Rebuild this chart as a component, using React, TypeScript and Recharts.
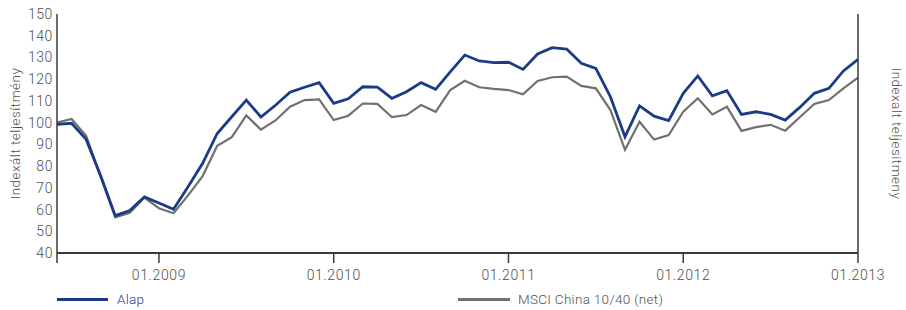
import React from 'react';
import { LineChart, Line, XAxis, YAxis, Legend } from 'recharts';

const months = [
  '06.2008','07.2008','08.2008','09.2008','10.2008','11.2008','12.2008',
  '01.2009','02.2009','03.2009','04.2009','05.2009','06.2009','07.2009','08.2009','09.2009','10.2009','11.2009','12.2009',
  '01.2010','02.2010','03.2010','04.2010','05.2010','06.2010','07.2010','08.2010','09.2010','10.2010','11.2010','12.2010',
  '01.2011','02.2011','03.2011','04.2011','05.2011','06.2011','07.2011','08.2011','09.2011','10.2011','11.2011','12.2011',
  '01.2012','02.2012','03.2012','04.2012','05.2012','06.2012','07.2012','08.2012','09.2012','10.2012','11.2012','12.2012',
  '01.2013',
];

const alap = [
  99.2, 99.7, 92.3, 75.5, 57.2, 59.5, 65.8, 63.0, 60.1, 70.5, 81.3, 95.0,
  102.7, 110.4, 102.6, 108.0, 114.0, 116.3, 118.4, 108.9, 111.0, 116.5, 116.3, 111.2,
  114.2, 118.4, 115.3, 123.4, 131.1, 128.4, 127.6, 127.8, 124.5, 131.6, 134.5, 133.9,
  127.3, 125.0, 111.9, 93.5, 107.7, 103.0, 100.9, 113.5, 121.5, 112.3, 114.7, 103.8,
  105.0, 103.8, 101.2, 107.0, 113.5, 115.8, 123.8, 129.1,
];

const msci = [
  100.0, 101.7, 93.9, 75.0, 56.4, 58.5, 65.5, 60.6, 58.3, 66.5, 75.4, 89.3,
  93.3, 103.3, 96.8, 101.0, 107.3, 110.4, 110.7, 101.2, 103.2, 108.8, 108.6, 102.5,
  103.5, 108.1, 105.0, 115.0, 119.3, 116.3, 115.5, 115.0, 113.0, 119.2, 120.9, 121.2,
  116.9, 115.8, 105.8, 87.5, 100.4, 92.2, 94.3, 105.0, 111.2, 103.8, 107.3, 96.2,
  97.9, 99.0, 96.3, 102.5, 108.6, 110.4, 115.8, 120.7,
];

const xTicks = ['06.2008', '01.2009', '01.2010', '01.2011', '01.2012', '01.2013'];
const yTicks = [40, 50, 60, 70, 80, 90, 100, 110, 120, 130, 140, 150];

const seriesNames = ['Alap', 'MSCI China 10/40 (net)'];
const leftAxisLabel = 'Indexált teljesítmény';
const rightAxisLabel = 'Indexalt teljesitmeny';

const BLUE = '#1d3a87';
const GRAY = '#707070';
const AXIS = '#3a3a3a';
const TEXT = '#4f4f4f';
const FONT = 'Roboto, "Noto Sans", sans-serif';

const data = months.map((m, i) => ({ month: m, alap: alap[i], msci: msci[i] }));

const tickStyle = { fill: TEXT, fontSize: 14, fontFamily: FONT, fontWeight: 300, letterSpacing: 0.6 };

const LegendContent = () => (
  <div style={{ position: 'relative', height: 30, width: 906, fontFamily: FONT, fontWeight: 300, fontSize: 13.5, letterSpacing: 0.3 }}>
    <div style={{ position: 'absolute', left: 57, top: 18, width: 51, height: 3, background: BLUE }} />
    <div style={{ position: 'absolute', left: 117, top: 10, color: BLUE, lineHeight: '18px' }}>{seriesNames[0]}</div>
    <div style={{ position: 'absolute', left: 458, top: 18, width: 52, height: 3, background: GRAY }} />
    <div style={{ position: 'absolute', left: 518, top: 10, color: '#505050', lineHeight: '18px' }}>{seriesNames[1]}</div>
  </div>
);

const LeftLabel = (props: any) => {
  const vb = props.viewBox || {};
  const cx = vb.x + 15;
  const cy = vb.y + vb.height / 2;
  return (
    <text x={cx} y={cy} transform={`rotate(-90, ${cx}, ${cy})`} textAnchor="middle" dominantBaseline="central"
      style={{ fill: TEXT, fontSize: 13.5, fontFamily: FONT, fontWeight: 300, letterSpacing: 0.5 }}>
      {leftAxisLabel}
    </text>
  );
};

const RightLabel = (props: any) => {
  const vb = props.viewBox || {};
  const cx = vb.x + 39;
  const cy = vb.y + vb.height / 2;
  return (
    <text x={cx} y={cy} transform={`rotate(90, ${cx}, ${cy})`} textAnchor="middle" dominantBaseline="central"
      style={{ fill: TEXT, fontSize: 13.5, fontFamily: FONT, fontWeight: 300, letterSpacing: 0.5 }}>
      {rightAxisLabel}
    </text>
  );
};

export default function App() {
  return (
    <div style={{ position: 'absolute', left: 0, top: 0, width: 906, height: 310, background: '#fff' }}>
      <LineChart width={906} height={310} data={data} margin={{ top: 14, right: 0, bottom: 0, left: 0 }}>
        <XAxis
          dataKey="month"
          ticks={xTicks}
          interval={0}
          tickFormatter={(v: string) => (v === xTicks[0] ? '' : v)}
          tickSize={10}
          tickMargin={7}
          height={27}
          axisLine={{ stroke: AXIS, strokeWidth: 2 }}
          tickLine={{ stroke: AXIS, strokeWidth: 1.5 }}
          tick={tickStyle}
        />
        <YAxis
          yAxisId="left"
          orientation="left"
          domain={[40, 150]}
          ticks={yTicks}
          interval={0}
          width={57}
          tickSize={0}
          tickMargin={4}
          tickLine={false}
          axisLine={{ stroke: AXIS, strokeWidth: 1.5 }}
          tick={tickStyle}
          label={<LeftLabel />}
        />
        <YAxis
          yAxisId="right"
          orientation="right"
          domain={[40, 150]}
          ticks={yTicks}
          interval={0}
          width={48}
          tickSize={0}
          tickMargin={4}
          tickLine={false}
          axisLine={{ stroke: AXIS, strokeWidth: 1.5 }}
          tick={{ ...tickStyle, textAnchor: 'start' }}
          label={<RightLabel />}
        />
        <Legend verticalAlign="bottom" align="left" height={30} content={<LegendContent />} wrapperStyle={{ left: 0, width: 906 }} />
        <Line yAxisId="left" type="linear" dataKey="msci" stroke={GRAY} strokeWidth={2.2} dot={false} isAnimationActive={false} />
        <Line yAxisId="left" type="linear" dataKey="alap" stroke={BLUE} strokeWidth={2.8} dot={false} isAnimationActive={false} />
      </LineChart>
    </div>
  );
}
